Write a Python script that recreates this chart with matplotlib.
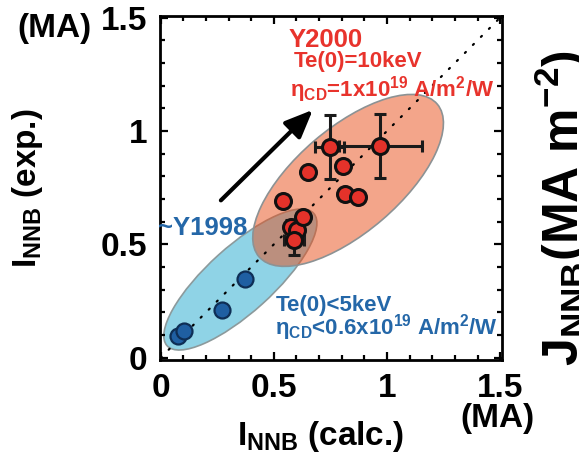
import matplotlib
matplotlib.use("Agg")
import matplotlib.pyplot as plt
from matplotlib.patches import Ellipse

plt.rcParams['font.family'] = ['Liberation Sans', 'DejaVu Sans']
plt.rcParams['font.weight'] = 'bold'
plt.rcParams['axes.labelweight'] = 'bold'
plt.rcParams['mathtext.fontset'] = 'custom'
plt.rcParams['mathtext.rm'] = 'Liberation Sans:bold'
plt.rcParams['mathtext.it'] = 'Liberation Sans:bold'
plt.rcParams['mathtext.bf'] = 'Liberation Sans:bold'

# blue points (~Y1998)
blue_x = [0.078, 0.105, 0.270, 0.374]
blue_y = [0.094, 0.120, 0.211, 0.348]

# red points (Y2000)
red_x = [0.805, 0.653, 0.814, 0.871, 0.541, 0.575, 0.603, 0.631, 0.589, 0.748, 0.971]
red_y = [0.847, 0.819, 0.721, 0.708, 0.690, 0.578, 0.562, 0.622, 0.520, 0.928, 0.934]

# points with error bars
err_x = [0.575, 0.589, 0.748, 0.971]
err_y = [0.578, 0.520, 0.928, 0.934]
err_dx = [0.02, 0.045, 0.064, 0.182]
err_dy = [0.03, 0.068, 0.141, 0.141]

ticks = [0, 0.5, 1, 1.5]
tick_labels = ['0', '0.5', '1', '1.5']

red_c = '#E4322A'
blue_c = '#1F5FA2'
red_txt = '#E8332C'
blue_txt = '#2467A8'

fig = plt.figure(figsize=(5.79, 4.61), dpi=100)
ax = fig.add_axes([160 / 579, 1 - 360 / 461, 342 / 579, 344 / 461])

# regions
ax.add_patch(Ellipse((0.352, 0.345), 0.872, 0.29, angle=42, facecolor='#8FD3E6',
                     edgecolor='#8C9A9C', lw=1.2, zorder=1))
ax.add_patch(Ellipse((0.828, 0.782), 1.036, 0.46, angle=40.5, facecolor=(0.91, 0.30, 0.09, 0.5),
                     edgecolor='#8C9294', lw=1.2, zorder=2))

# y = x line
ax.plot([0, 1.5], [0, 1.5], color='k', lw=1.6, linestyle=(0, (0.6, 4.5)),
        dash_capstyle='round', zorder=3)

# trend arrow
ax.annotate('', xy=(0.672, 1.093), xytext=(0.266, 0.694),
            arrowprops=dict(arrowstyle='-|>,head_length=0.85,head_width=0.36', lw=3,
                            color='k', mutation_scale=20, shrinkA=0, shrinkB=0), zorder=4)

ax.errorbar(err_x, err_y, xerr=err_dx, yerr=err_dy, fmt='none', ecolor='#1a1a1a',
            elinewidth=2.2, capsize=4.5, capthick=2.2, zorder=5)
ax.plot(red_x, red_y, 'o', color=red_c, ms=11.5, mec='#111111', mew=2.2, zorder=6)
ax.plot(blue_x, blue_y, 'o', color=blue_c, ms=11.5, mec='#0E2E55', mew=1.6, zorder=6)

# annotations
ax.text(0.566, 1.370, 'Y2000', color=red_txt, fontsize=18.5, va='baseline')
ax.text(0.588, 1.280, 'Te(0)=10keV', color=red_txt, fontsize=16, va='baseline')
ax.text(0.572, 1.150, r'η$_{\rm CD}$=1x10$^{19}$ A/m$^{2}$/W', color=red_txt, fontsize=16,
        va='baseline')
ax.text(-0.012, 0.542, '~Y1998', color=blue_txt, fontsize=18.5, va='baseline', clip_on=False,
        zorder=7)
ax.text(0.509, 0.206, 'Te(0)<5keV', color=blue_txt, fontsize=16, va='baseline')
ax.text(0.504, 0.104, r'η$_{\rm CD}$<0.6x10$^{19}$ A/m$^{2}$/W', color=blue_txt, fontsize=16,
        va='baseline')

ax.set_xlim(-0.003, 1.508)
ax.set_ylim(-0.01, 1.507)
ax.set_xticks(ticks)
ax.set_xticklabels(tick_labels)
ax.set_yticks(ticks)
ax.set_yticklabels(tick_labels)
ax.set_xticks([i / 10 for i in range(16)], minor=True)
ax.set_yticks([i / 10 for i in range(16)], minor=True)
ax.tick_params(which='both', direction='in', top=True, right=True, width=1.6, labelsize=24, pad=9)
ax.tick_params(which='major', length=6)
ax.tick_params(which='minor', length=3.5)
for s in ax.spines.values():
    s.set_linewidth(2)

ax.set_xlabel(r'I$_{\rm NNB}$ (calc.)', fontsize=24)
ax.set_ylabel(r'I$_{\rm NNB}$ (exp.)', fontsize=24)
ax.xaxis.set_label_coords(0.468, -0.172)
ax.yaxis.set_label_coords(-0.335, 0.5)

fig.text(17 / 579, 1 - 28 / 461, '(MA)', fontsize=24, ha='left', va='center')
fig.text(497 / 579, 1 - 418 / 461, '(MA)', fontsize=24, ha='center', va='center')
fig.text(533 / 579, 1 - 366 / 461, r'J$_{\rm NNB}$(MA m$^{-2}$)', fontsize=36, rotation=90,
         ha='left', va='bottom')

fig.savefig('out.png', dpi=100)
